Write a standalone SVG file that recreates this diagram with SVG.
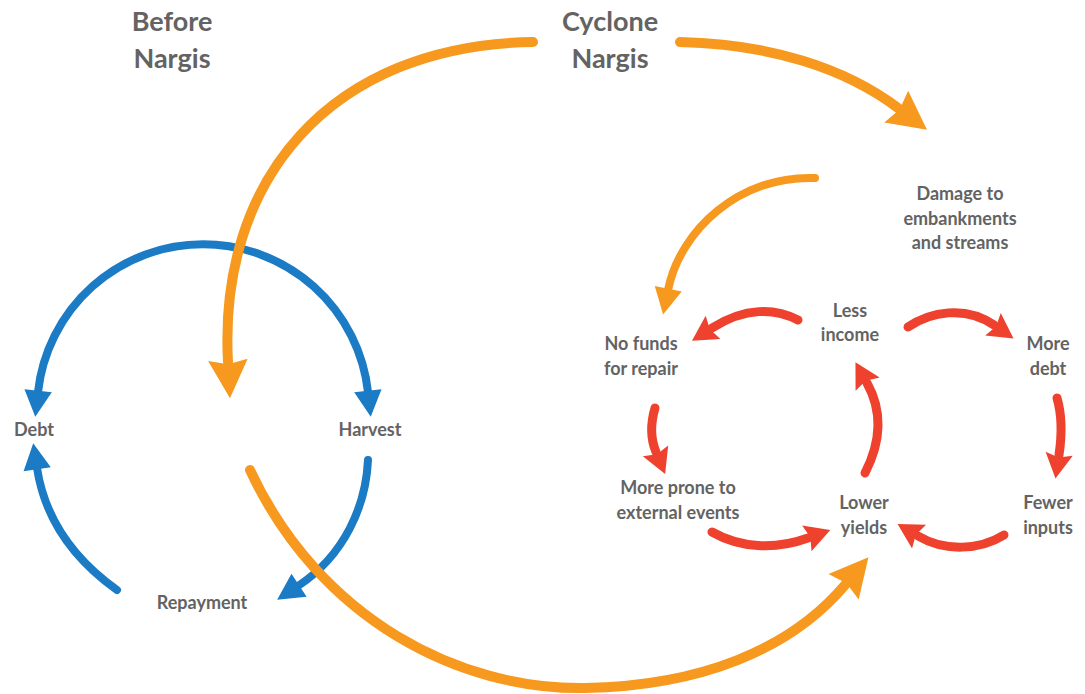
<svg xmlns="http://www.w3.org/2000/svg" width="1085" height="694" viewBox="0 0 1085 694">
<style>
.t{font-family:Lato,"Open Sans","Liberation Sans",sans-serif;font-weight:700;fill:#636363;text-anchor:middle}
.h{font-size:27px}
.n{font-size:18px}
.c{fill:none;stroke-linecap:round}
.b{stroke:#1b7bc4;stroke-width:8}
.o{stroke:#f7991e;stroke-width:10}
.o2{stroke:#f7991e;stroke-width:8}
.r{stroke:#ee412e;stroke-width:9}
</style>
<defs>
<marker id="ab" markerUnits="userSpaceOnUse" markerWidth="30" markerHeight="30" viewBox="-2 -12 24 24" refX="1" refY="0" orient="auto-start-reverse"><path d="M0,-11 L21,0 L0,11 Z" fill="#1b7bc4"/></marker>
<marker id="ao" markerUnits="userSpaceOnUse" markerWidth="44" markerHeight="44" viewBox="-2 -20 40 40" refX="2" refY="0" orient="auto"><path d="M0,-18 L35,0 L0,18 L4,0 Z" fill="#f7991e"/></marker>
<marker id="ao2" markerUnits="userSpaceOnUse" markerWidth="30" markerHeight="30" viewBox="-2 -12 24 24" refX="1" refY="0" orient="auto"><path d="M0,-11 L21,0 L0,11 Z" fill="#f7991e"/></marker>
<marker id="ar" markerUnits="userSpaceOnUse" markerWidth="30" markerHeight="30" viewBox="-2 -12 24 24" refX="1" refY="0" orient="auto"><path d="M0,-11 L20,0 L0,11 L3,0 Z" fill="#ee412e"/></marker>
</defs>
<g id="connectors">
<path class="c b" d="M38,392 A166,166 0 0 1 368,392" marker-start="url(#ab)" marker-end="url(#ab)"/>
<path class="c b" d="M368,460 C366,505 345,555 298,586" marker-end="url(#ab)"/>
<path class="c b" d="M117,590 C75,560 45,520 37,468" marker-end="url(#ab)"/>
<path class="c o" d="M533,42 C330,45 218,180 228,362" marker-end="url(#ao)"/>
<path class="c o" d="M680,42 C770,44 845,68 898,108" marker-end="url(#ao)"/>
<path class="c o" d="M250,470 C320,620 460,690 585,688 C700,686 790,650 845,585" marker-end="url(#ao)"/>
<path class="c o2" d="M815,178 C740,175 680,230 668,290" marker-end="url(#ao2)"/>
<path class="c r" d="M798,320 C775,308 745,307 712,328" marker-end="url(#ar)"/>
<path class="c r" d="M908,327 C930,312 965,305 994,325" marker-end="url(#ar)"/>
<path class="c r" d="M655,408 C650,425 651,440 656,452" marker-end="url(#ar)"/>
<path class="c r" d="M1057,398 C1062,415 1062,435 1059,455" marker-end="url(#ar)"/>
<path class="c r" d="M712,532 C740,548 775,550 808,538" marker-end="url(#ar)"/>
<path class="c r" d="M1004,535 C980,550 945,552 918,536" marker-end="url(#ar)"/>
<path class="c r" d="M865,473 C882,440 882,410 867,383" marker-end="url(#ar)"/>
</g>
<g id="before"><text class="t h" x="172" y="31">Before</text><text class="t h" x="172" y="68">Nargis</text></g>
<g id="cyclone"><text class="t h" x="610" y="31">Cyclone</text><text class="t h" x="610" y="68">Nargis</text></g>
<g id="debt"><text class="t n" x="34" y="436">Debt</text></g>
<g id="harvest"><text class="t n" x="370" y="436">Harvest</text></g>
<g id="repayment"><text class="t n" x="202" y="609">Repayment</text></g>
<g id="damage"><text class="t n" x="960" y="200">Damage to</text><text class="t n" x="960" y="225">embankments</text><text class="t n" x="960" y="249">and streams</text></g>
<g id="less-income"><text class="t n" x="850" y="317">Less</text><text class="t n" x="850" y="341">income</text></g>
<g id="no-funds"><text class="t n" x="641" y="350">No funds</text><text class="t n" x="641" y="375">for repair</text></g>
<g id="more-debt"><text class="t n" x="1048" y="350">More</text><text class="t n" x="1048" y="375">debt</text></g>
<g id="more-prone"><text class="t n" x="678" y="494">More prone to</text><text class="t n" x="678" y="519">external events</text></g>
<g id="lower-yields"><text class="t n" x="864" y="509">Lower</text><text class="t n" x="864" y="534">yields</text></g>
<g id="fewer-inputs"><text class="t n" x="1048" y="509">Fewer</text><text class="t n" x="1048" y="534">inputs</text></g>
</svg>
